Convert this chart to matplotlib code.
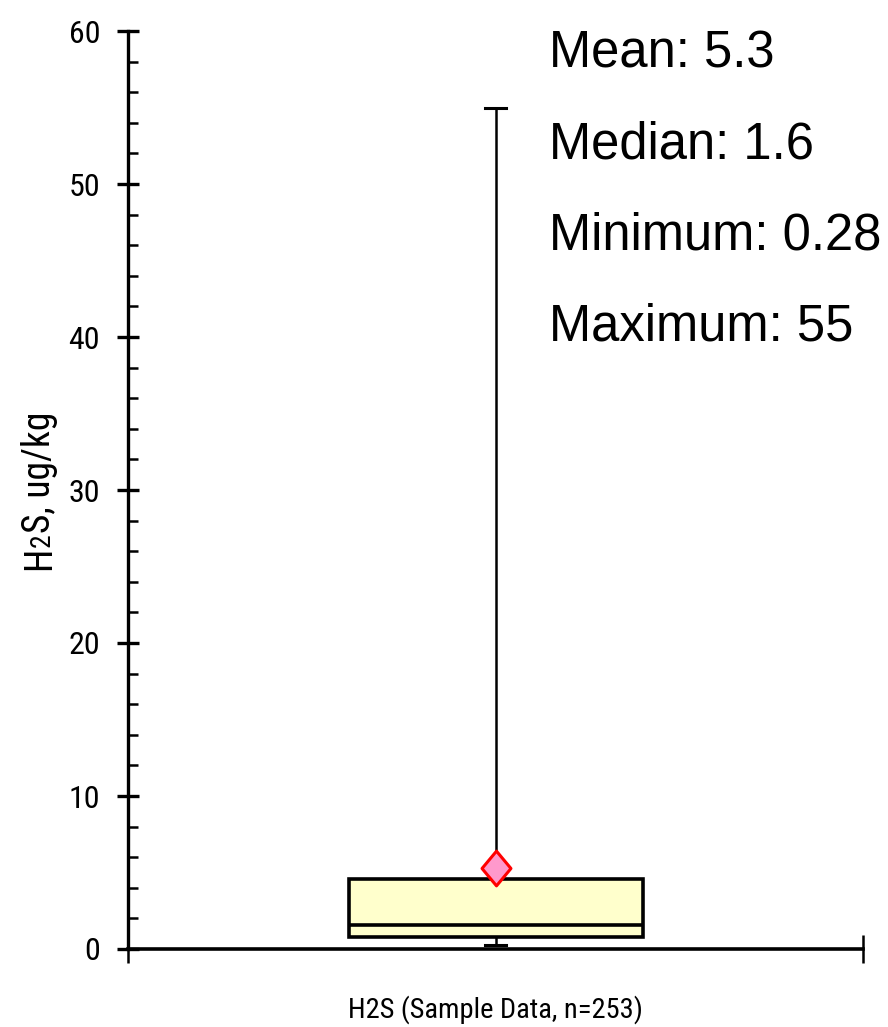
import numpy as np
import matplotlib
matplotlib.use('Agg')
import matplotlib.pyplot as plt
from matplotlib.path import Path

#box statistics (ug/kg)
series_label = 'H2S (Sample Data, n=253)'
q1 = 0.8
q3 = 4.6
median = 1.6
mean = 5.3
minimum = 0.28
maximum = 55

#summary text in the upper right
stat_names = ['Mean', 'Median', 'Minimum', 'Maximum']
stat_values = ['5.3', '1.6', '0.28', '55']

narrow = ['Roboto Condensed', 'Archivo Narrow', 'Liberation Sans', 'DejaVu Sans']
wide = ['Liberation Sans', 'DejaVu Sans']

fig = plt.figure(figsize=(8.88, 10.27), dpi=100)
ax = fig.add_axes([128/888, 78/1027, 735/888, 918/1027])

stats = [dict(med=median, q1=q1, q3=q3, whislo=minimum, whishi=maximum,
              mean=mean, fliers=[], label='')]

#diamond a bit taller than wide
diamond = Path([(0, 1.2), (1, 0), (0, -1.2), (-1, 0), (0, 1.2)],
               [Path.MOVETO, Path.LINETO, Path.LINETO, Path.LINETO, Path.CLOSEPOLY])

ax.bxp(stats, positions=[0.5], widths=0.4, capwidths=0.028, patch_artist=True,
       showmeans=True, showfliers=False,
       boxprops=dict(facecolor='#ffffcc', edgecolor='black', linewidth=2.6),
       medianprops=dict(color='black', linewidth=2.6),
       whiskerprops=dict(color='black', linewidth=1.8),
       capprops=dict(color='black', linewidth=2.2),
       meanprops=dict(marker=diamond, markersize=25, markerfacecolor='#ff99cc',
                      markeredgecolor='red', markeredgewidth=2.2))

ax.set_xlim(0, 1)
ax.set_ylim(0, 60)

for side in ['top', 'right']:
    ax.spines[side].set_visible(False)
ax.spines['left'].set_linewidth(2.4)
ax.spines['bottom'].set_linewidth(2.6)

ax.set_yticks(np.arange(0, 61, 10))
ax.set_yticks(np.arange(0, 61, 2), minor=True)
ax.tick_params(axis='y', which='major', direction='inout', length=16, width=2.4, pad=12,
               labelsize=23)
ax.tick_params(axis='y', which='minor', direction='in', length=7, width=1.8)
for lab in ax.get_yticklabels():
    lab.set_family(narrow)

ax.set_xticks([0, 1])
ax.set_xticklabels([])
ax.tick_params(axis='x', which='major', direction='inout', length=20, width=1.8)

ax.set_xlabel(series_label, family=narrow, fontsize=20.5, labelpad=20)

#y label: H, small 2 on the baseline, then the rest
t = fig.text(50/888, (1027-570)/1027, 'H', rotation=90, rotation_mode='anchor',
             ha='left', va='baseline', fontsize=27, family=narrow)
t = ax.annotate('2', xy=(50/888, 1), xycoords=('figure fraction', t), rotation=90,
                rotation_mode='anchor', ha='left', va='baseline', fontsize=20,
                family=narrow, annotation_clip=False)
ax.annotate('S, ug/kg', xy=(50/888, 1), xycoords=('figure fraction', t), rotation=90,
            rotation_mode='anchor', ha='left', va='baseline', fontsize=27,
            family=narrow, annotation_clip=False)

for i, (name, val) in enumerate(zip(stat_names, stat_values)):
    ax.text(0.573, 0.9597 - i*0.0991, f'{name}: {val}', transform=ax.transAxes,
            ha='left', va='baseline', fontsize=36.5, family=wide)

fig.savefig('out.png', dpi=100)
